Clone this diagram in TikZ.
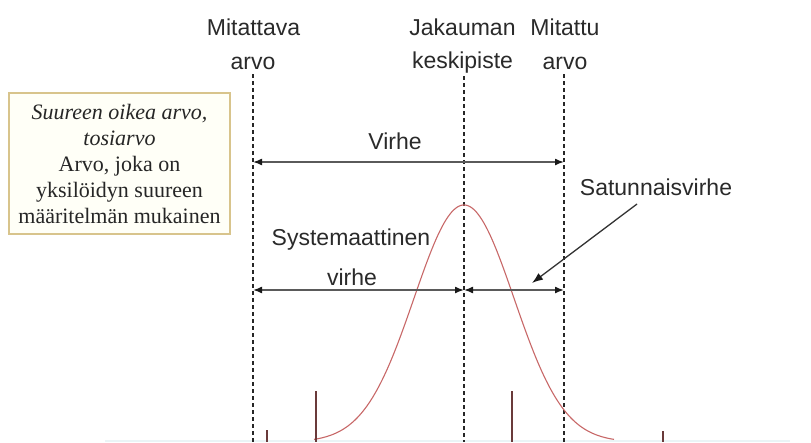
\documentclass[tikz,border=0pt]{standalone}
\usepackage{fontspec}
\setmainfont{Liberation Serif}
\setsansfont{Liberation Sans}
\usetikzlibrary{arrows.meta}
\definecolor{txt}{HTML}{2A2A2A}
\definecolor{boxline}{HTML}{D8C48C}
\definecolor{boxfill}{HTML}{FFFFF7}
\definecolor{curvecol}{HTML}{C86868}
\definecolor{tickcol}{HTML}{6A3A3A}
\definecolor{arrline}{HTML}{5A5A5A}
\definecolor{faint}{HTML}{EAF4F6}
\begin{document}
\begin{tikzpicture}[x=1pt,y=-1pt,
  lab/.style={font=\sffamily\fontsize{23}{23}\selectfont, text=txt, inner sep=0pt, anchor=center},
  guide/.style={draw=black!85, line width=2pt, dash pattern=on 4pt off 3pt},
  dimarrow/.style={draw=arrline, line width=1.5pt, {Latex[length=9pt,width=7pt,color=black!90]}-{Latex[length=9pt,width=7pt,color=black!90]}},
  pointer/.style={draw=black!80, line width=1.3pt, -{Latex[length=11pt,width=8pt,color=black!90]}},
  tick/.style={draw=tickcol, line width=1.2pt},
  curve/.style={draw=curvecol, line width=1.1pt},
  infobox/.style={draw=boxline, fill=boxfill, line width=1.2pt, minimum width=221pt, minimum height=141pt, inner sep=0pt, align=center, text=black!85, font=\fontsize{22}{26}\selectfont}
]
\useasboundingbox (0,0) rectangle (811,442);
\fill[white] (0,0) rectangle (811,442);

% faint bottom line
\draw[faint, line width=1.5pt] (105,441) -- (790,441);

% info box
\node[infobox] (box) at (119.5,163.5) {\textit{Suureen oikea arvo,}\\\textit{tosiarvo}\\Arvo, joka on\\yksilöidyn suureen\\määritelmän mukainen};

% top labels
\node[lab] (m1) at (253.5,27) {Mitattava};
\node[lab] (m2) at (253,63) {arvo};
\node[lab] (j1) at (462.5,27) {Jakauman};
\node[lab] (j2) at (462.5,63) {keskipiste};
\node[lab] (t1) at (565,27) {Mitattu};
\node[lab] (t2) at (565,63) {arvo};

% guide lines
\coordinate (Ltop) at (253,74);
\coordinate (Lbot) at (253,442);
\coordinate (Ctop) at (464,76);
\coordinate (Cbot) at (464,442);
\coordinate (Rtop) at (564,74);
\coordinate (Rbot) at (564,442);
\draw[guide] (Ltop) -- (Lbot);
\draw[guide] (Ctop) -- (Cbot);
\draw[guide] (Rtop) -- (Rbot);

% gaussian
\draw[curve] plot[domain=314:614, samples=160, smooth] (\x, {442-237*exp(-0.5*((\x-464)/50)^2)});

% ticks
\coordinate (k1a) at (267,430); \coordinate (k1b) at (267,442);
\coordinate (k2a) at (316,391); \coordinate (k2b) at (316,442);
\coordinate (k3a) at (512,391); \coordinate (k3b) at (512,442);
\coordinate (k4a) at (663,431); \coordinate (k4b) at (663,442);
\draw[tick] (k1a) -- (k1b);
\draw[tick] (k2a) -- (k2b);
\draw[tick] (k3a) -- (k3b);
\draw[tick] (k4a) -- (k4b);

% Virhe
\node[lab] (virhe) at (395,141) {Virhe};
\coordinate (vL) at (253,162);
\coordinate (vR) at (564,162);
\draw[dimarrow] (vL) -- (vR);

% systematic
\node[lab] (sys1) at (351,240) {Systemaattinen};
\node[lab] (sys2) at (352,277) {virhe};
\coordinate (sL) at (253,290);
\coordinate (sM) at (464,290);
\coordinate (sR) at (564,290);
\draw[dimarrow] (sL) -- (sM);
\draw[dimarrow] (sM) -- (sR);

% Satunnaisvirhe
\node[lab] (sat) at (656,187) {Satunnaisvirhe};
\coordinate (satS) at (637,204);
\coordinate (satE) at (532,283);
\draw[pointer] (satS) -- (satE);
\end{tikzpicture}
\end{document}
